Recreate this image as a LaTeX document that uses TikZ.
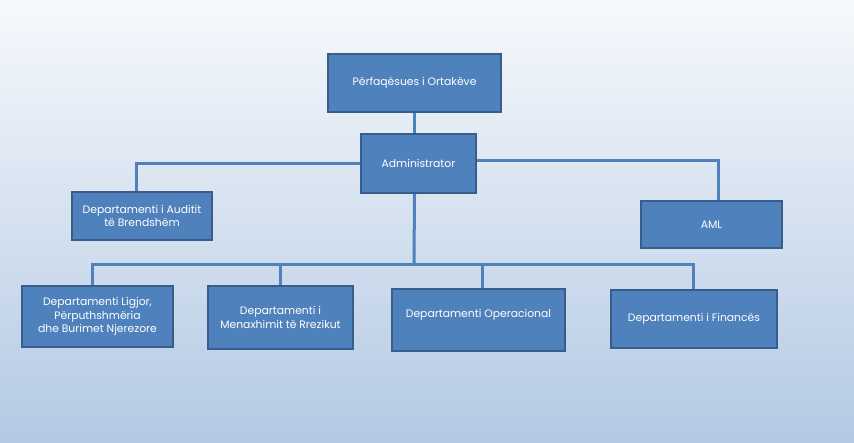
\documentclass[tikz,border=0pt]{standalone}
\usepackage{fontspec}
\setmainfont{Poppins}
\usetikzlibrary{backgrounds}
\definecolor{boxfill}{HTML}{4F81BD}
\definecolor{boxline}{HTML}{385D8A}
\definecolor{connc}{HTML}{4F81BD}
\definecolor{bgtop}{HTML}{F7F9FC}
\definecolor{bgbot}{HTML}{B3C9E3}
\tikzset{
  orgbox/.style={draw=boxline, line width=1.6pt, fill=boxfill, text=white,
    align=center, font=\fontsize{10.8}{13.6}\selectfont, inner sep=2pt},
  conn/.style={draw=connc, line width=3pt, line join=miter}
}
\begin{document}
\begin{tikzpicture}[x=1pt,y=-1pt]
\node[orgbox, minimum width=173pt, minimum height=58pt] (pers) at (414.5,83) {Përfaqësues i Ortakëve};
\node[orgbox, minimum width=115pt, minimum height=59pt] (admin) at (418.5,163.5) {Administrator};
\node[orgbox, minimum width=140pt, minimum height=48pt] (audit) at (142,216) {Departamenti i Auditit\\të Brendshëm};
\node[orgbox, minimum width=141pt, minimum height=47pt] (aml) at (711.5,224.5) {AML};
\node[orgbox, minimum width=151pt, minimum height=61pt] (ligjor) at (97.5,316.5) {Departamenti Ligjor,\\Përputhshmëria\\dhe Burimet Njerezore};
\node[orgbox, minimum width=145pt, minimum height=63pt] (rrezik) at (280.5,317.5) {Departamenti i\\Menaxhimit të Rrezikut};
\node[orgbox, minimum width=173pt, minimum height=62pt] (oper) at (478.5,320) {Departamenti Operacional\\\mbox{}};
\node[orgbox, minimum width=166pt, minimum height=58pt] (fin) at (694,319) {Departamenti i Financës};
\coordinate (bus) at (414,264);

\begin{scope}[on background layer]
\shade[top color=bgtop, bottom color=bgbot] (0,0) rectangle (854,442);
\end{scope}
\begin{scope}[on background layer]
\draw[conn] (pers.south) -- (pers.south |- admin.north);
\draw[conn] (pers.south |- admin.south) -- (bus);
\draw[conn] (admin.west) -| ([xshift=-6pt]audit.north);
\draw[conn] ([yshift=3.5pt]admin.east) -| ([xshift=6.5pt]aml.north);
\draw[conn] ([xshift=-5.5pt]ligjor.north) |- (bus) -| ([xshift=-1pt]fin.north);
\draw[conn] (rrezik.north) -- (rrezik.north |- bus);
\draw[conn] ([xshift=3.5pt]oper.north) -- ([xshift=3.5pt]oper.north |- bus);
\end{scope}
\useasboundingbox (0,0) rectangle (854,442);
\end{tikzpicture}
\end{document}
